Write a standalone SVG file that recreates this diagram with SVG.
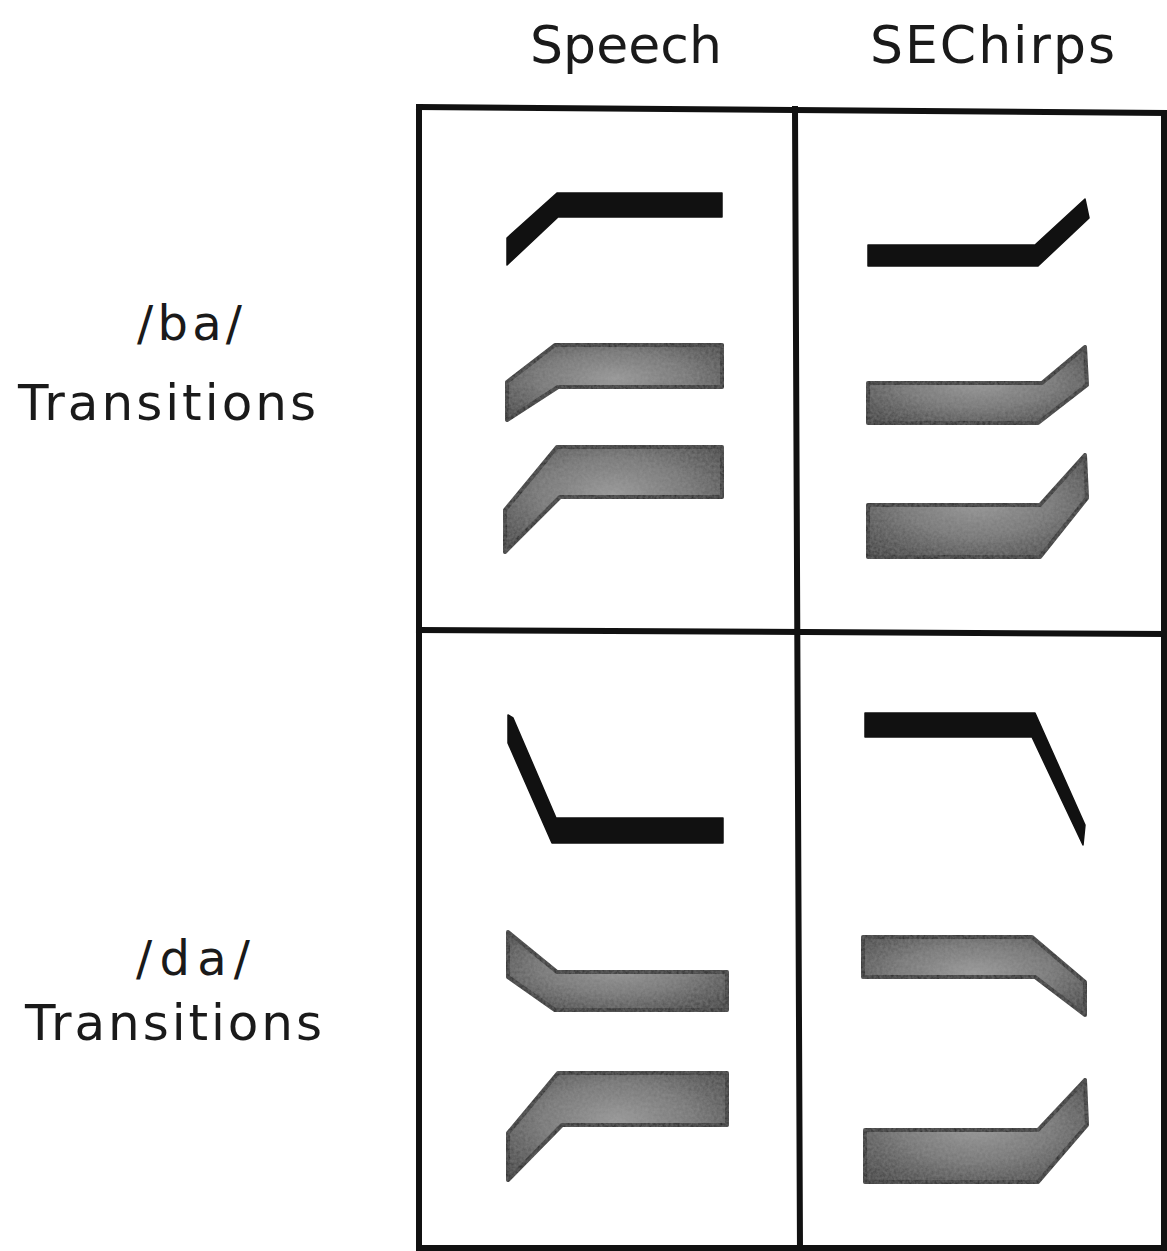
<svg xmlns="http://www.w3.org/2000/svg" width="1167" height="1251" viewBox="0 0 1167 1251">
<style>
.lbl{font-family:"DejaVu Sans","Liberation Sans",sans-serif;fill:#1a1a1a}
.grid{stroke:#111;stroke-width:6;fill:none;stroke-linecap:square}
.blk{fill:#111;stroke:#111;stroke-width:1.5;stroke-linejoin:round}
.gry{fill:url(#g);stroke:#262626;stroke-width:4;stroke-linejoin:round;filter:url(#tex)}
</style>
<defs>
<radialGradient id="g" cx="0.5" cy="0.45" r="0.7">
<stop offset="0" stop-color="#959595"/>
<stop offset="0.5" stop-color="#727272"/>
<stop offset="1" stop-color="#363636"/>
</radialGradient>
<filter id="tex" x="-5%" y="-5%" width="110%" height="110%">
<feTurbulence type="fractalNoise" baseFrequency="0.35" numOctaves="2" seed="3" result="n"/>
<feColorMatrix in="n" type="matrix" values="0 0 0 0 0.5  0 0 0 0 0.5  0 0 0 0 0.5  0 0 0 0.25 0" result="nz"/>
<feComposite in="nz" in2="SourceGraphic" operator="in" result="nm"/>
<feMerge><feMergeNode in="SourceGraphic"/><feMergeNode in="nm"/></feMerge>
</filter>
</defs>
<rect width="1167" height="1251" fill="#fff"/>
<g id="labels">
<text class="lbl" x="530" y="63" font-size="52" textLength="192" lengthAdjust="spacing">Speech</text>
<text class="lbl" x="870" y="63" font-size="52" textLength="245" lengthAdjust="spacing">SEChirps</text>
<text class="lbl" x="137" y="340" font-size="48" textLength="105" lengthAdjust="spacing">/ba/</text>
<text class="lbl" x="18" y="420" font-size="50" textLength="298" lengthAdjust="spacing">Transitions</text>
<text class="lbl" x="136" y="975" font-size="48" textLength="114" lengthAdjust="spacing">/da/</text>
<text class="lbl" x="25" y="1040" font-size="50" textLength="297" lengthAdjust="spacing">Transitions</text>
</g>
<g id="connectors">
<path class="grid" d="M419 107 L1167 113"/>
<path class="grid" d="M419 107 L419 1251"/>
<path class="grid" d="M795 109 L800 1251"/>
<path class="grid" d="M419 630 L1167 634"/>
<path class="grid" d="M1164 113 L1164 1248"/>
<path class="grid" d="M419 1248 L1167 1248"/>
</g>
<g id="ba-speech-1"><polygon class="blk" points="507,238 557,193 722,193 722,217 558,217 507,265"/></g>
<g id="ba-speech-2"><polygon class="gry" points="507,382 555,345 722,345 722,387 558,387 507,420"/></g>
<g id="ba-speech-3"><polygon class="gry" points="505,510 557,447 722,447 722,497 560,497 505,552"/></g>
<g id="ba-chirp-1"><polygon class="blk" points="868,245 1035,245 1085,199 1089,218 1038,266 868,266"/></g>
<g id="ba-chirp-2"><polygon class="gry" points="868,383 1042,383 1085,347 1087,385 1038,423 868,423"/></g>
<g id="ba-chirp-3"><polygon class="gry" points="868,505 1040,505 1085,455 1087,498 1040,557 868,557"/></g>
<g id="da-speech-1"><polygon class="blk" points="508,715 513,718 556,818 723,818 723,843 552,843 508,743"/></g>
<g id="da-speech-2"><polygon class="gry" points="508,932 557,972 727,972 727,1010 555,1010 508,977"/></g>
<g id="da-speech-3"><polygon class="gry" points="508,1133 558,1073 727,1073 727,1125 562,1125 508,1180"/></g>
<g id="da-chirp-1"><polygon class="blk" points="865,713 1035,713 1085,825 1083,845 1032,737 865,737"/></g>
<g id="da-chirp-2"><polygon class="gry" points="863,937 1032,937 1085,982 1085,1015 1035,977 863,977"/></g>
<g id="da-chirp-3"><polygon class="gry" points="865,1130 1038,1130 1085,1080 1087,1125 1038,1182 865,1182"/></g>
</svg>
